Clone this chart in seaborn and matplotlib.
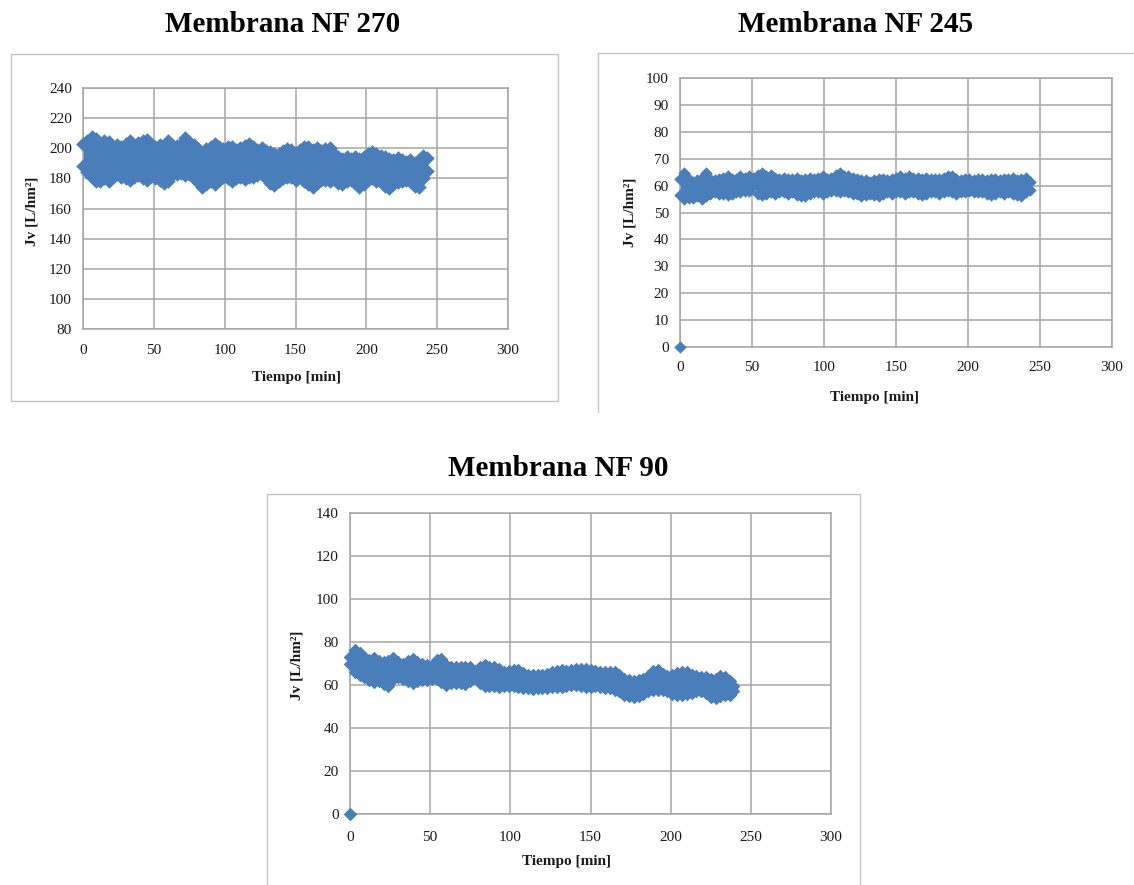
import matplotlib
matplotlib.use("Agg")
import matplotlib.pyplot as plt
import seaborn as sns
import pandas as pd
from matplotlib.lines import Line2D

# ---------------- data ----------------
titles = ["Membrana NF 270", "Membrana NF 245", "Membrana NF 90"]
x_label = "Tiempo [min]"
y_label = "Jv [L/hm²]"
x_ticks = [0, 50, 100, 150, 200, 250, 300]

nf270_t = [0, 3, 6, 9, 12, 15, 18, 21, 24, 27, 30, 33, 36, 39, 42, 45, 48, 51, 54, 57,
           60, 63, 66, 69, 72, 75, 78, 81, 84, 87, 90, 93, 96, 99, 102, 105, 108, 111, 114, 117,
           120, 123, 126, 129, 132, 135, 138, 141, 144, 147, 150, 153, 156, 159, 162, 165, 168, 171, 174, 177,
           180, 183, 186, 189, 192, 195, 198, 201, 204, 207, 210, 213, 216, 219, 222, 225, 228, 231, 234, 237,
           240, 243]
nf270_hi = [203, 205, 207.5, 206, 203, 204.5, 204, 201, 202, 200.5,
            203, 204.5, 202, 203.5, 205, 205.5, 203, 201, 202, 200,
            205, 202, 201.5, 203, 206.5, 204, 202, 199.5, 197, 199.5,
            201, 203, 201, 199.5, 200.5, 201, 199, 200, 201.5, 203,
            201, 199, 200, 198.5, 197.5, 196, 196.5, 198, 199.5, 199,
            197, 199, 200.5, 201, 199, 200, 198, 199.5, 200, 196,
            194.5, 193, 194.5, 193, 194, 193, 194.5, 196, 197.5, 196.5,
            195, 194.5, 193, 192.5, 193.5, 192, 191, 192, 190.5, 192,
            195, 193.5]
nf270_lo = [188, 184, 181, 178.5, 178, 180, 178, 181, 183, 181,
            180.5, 179, 181, 182, 180, 179, 181.5, 180, 179, 177,
            178.5, 182, 183, 183.5, 182.5, 183, 180, 177.5, 174.5, 176.5,
            178, 176.5, 179, 181, 180, 178.5, 180, 181, 179.5, 181,
            181, 182.5, 183, 180, 177, 175.5, 178, 180, 181, 181,
            179, 181, 178, 176, 174.5, 177, 179, 179, 178, 180,
            177, 176.5, 178, 179, 177, 174.5, 176, 179, 180, 178.5,
            179, 175, 173.5, 176, 177.5, 178, 179, 178, 175, 174.5,
            180, 185]

nf245_t = list(nf270_t)
nf245_hi = [62.5, 64.5, 62.5, 61.5, 62, 63, 64.5, 62.5, 62, 62.5,
            63, 63.5, 62.5, 62.5, 63.5, 63, 63.5, 63, 64, 64.5,
            63.5, 64, 63, 62.5, 63, 62.5, 62.5, 63, 62, 62.5,
            63, 62.5, 63, 63.5, 62.5, 63, 64, 64.5, 63.5, 63.5,
            63, 62.5, 62, 62, 61.5, 62, 62.5, 62.5, 62, 62.5,
            63, 63.5, 63, 63.5, 63, 63, 62.5, 63, 62.5, 62.5,
            62.5, 63, 63.5, 63.5, 62.5, 62, 62.5, 62.5, 62, 62.5,
            62.5, 62, 62.5, 62.5, 62, 62.5, 62.5, 63, 62, 62.5,
            63, 61.5]
nf245_lo = [56.5, 55, 55.5, 55.5, 56, 55, 56, 57, 57.5, 57,
            57, 56.5, 57, 57.5, 57.5, 58, 58, 60, 57, 56.5,
            57, 57.5, 57, 57.5, 57.5, 57, 57.5, 56.5, 56, 56,
            57, 57.5, 57.5, 57, 57.5, 58, 58, 57.5, 58, 57.5,
            57, 57, 56, 56.5, 57, 56.5, 56, 57, 57.5, 57,
            57.5, 57.5, 57, 57.5, 57.5, 57, 56.5, 57, 57.5, 57.5,
            57, 57.5, 58, 57.5, 57, 57.5, 57.5, 58, 57.5, 57.5,
            57.5, 57, 56.5, 57, 57.5, 57, 57.5, 57, 56.5, 56,
            57.5, 58.5]
nf245_start_t = [0]
nf245_start_jv = [0]

nf90_t = [0, 3, 6, 9, 12, 15, 18, 21, 24, 27, 30, 33, 36, 39, 42, 45, 48, 51, 54, 57,
          60, 63, 66, 69, 72, 75, 78, 81, 84, 87, 90, 93, 96, 99, 102, 105, 108, 111, 114, 117,
          120, 123, 126, 129, 132, 135, 138, 141, 144, 147, 150, 153, 156, 159, 162, 165, 168, 171, 174, 177,
          180, 183, 186, 189, 192, 195, 198, 201, 204, 207, 210, 213, 216, 219, 222, 225, 228, 231, 234, 237,
          239]
nf90_hi = [73, 76.5, 75, 73, 71.5, 72.5, 71, 70.5, 71, 72.5,
           70.5, 70, 71, 72, 70.5, 70, 69.5, 69, 71.5, 72,
           69.5, 68.5, 68.5, 68.5, 68.5, 68.5, 66.5, 68.5, 69.5, 68.5,
           68.5, 67.5, 66, 66.5, 67, 67, 65.5, 64.5, 64.5, 64.5,
           64.5, 65, 66, 66.5, 67, 66.5, 67, 67.5, 67.5, 67.5,
           67, 66.5, 66, 66, 66, 66, 64.5, 63, 62.5, 62,
           62.5, 63, 64, 66.5, 67, 65, 64, 64.5, 65.5, 66,
           66, 64.5, 64, 63.5, 63.5, 63, 63, 64, 63.5, 62,
           59.5]
nf90_lo = [70, 66, 64.5, 63.5, 62.5, 61.5, 62, 60.5, 59.5, 63,
           63.5, 63, 62, 61, 62, 62.5, 62.5, 63, 63, 61.5,
           60, 61, 61, 61, 60.5, 62, 64.5, 61, 59.5, 59.5,
           59.5, 59, 59.5, 59.5, 59.5, 59, 58.5, 58.5, 58, 58.5,
           58.5, 58.5, 59, 59, 59, 59.5, 60, 60, 59.5, 59,
           59, 59.5, 59, 58.5, 58.5, 57.5, 57, 55.5, 55, 54.5,
           55, 56, 57, 57.5, 57.5, 57.5, 57, 56, 55.5, 55.5,
           56, 56.5, 57, 57, 56.5, 54.5, 54, 55, 55.5, 55.5,
           57]
nf90_start_t = [0]
nf90_start_jv = [0]

# ---------------- style ----------------
sns.set_theme(style="white")
plt.rcParams['font.family'] = ['Liberation Serif', 'DejaVu Serif']

BLUE = '#4A7EBB'
GRID = '#a6a6a6'
BOX = '#c4c4c4'
TXT = '#1a1a1a'

W, H = 1134, 885
fig = plt.figure(figsize=(W / 100, H / 100), dpi=100)


def px_rect(l, t, r, b):
    return [l / W, 1 - b / H, (r - l) / W, (b - t) / H]


def fpt(x, y):
    return x / W, 1 - y / H


def panel(rect, t, hi, lo, st, sj, ylim, ystep, s, xpad):
    ax = fig.add_axes(rect)
    ax.fill_between(t, lo, hi, color=BLUE, linewidth=0, zorder=2)
    xs = list(t) + list(t) + list(st)
    ys = list(hi) + list(lo) + list(sj)
    df = pd.DataFrame({'t': xs, 'jv': ys})
    sns.scatterplot(data=df, x='t', y='jv', marker='D', s=s, color=BLUE,
                    linewidth=0, ax=ax, zorder=3, clip_on=False, legend=False)
    ax.set_xlim(0, 300)
    ax.set_ylim(*ylim)
    ax.set_xticks(x_ticks)
    ax.set_yticks(list(range(ylim[0], ylim[1] + 1, ystep)))
    ax.grid(True, color=GRID, linewidth=1.1)
    ax.set_axisbelow(True)
    for sp in ax.spines.values():
        sp.set_color(GRID)
        sp.set_linewidth(1.1)
    ax.tick_params(length=0, labelsize=11, colors=TXT)
    ax.tick_params(axis='y', pad=8)
    ax.tick_params(axis='x', pad=xpad)
    ax.set_xlabel('')
    ax.set_ylabel('')
    return ax


panel(px_rect(83, 88, 508, 329), nf270_t, nf270_hi, nf270_lo, [], [],
      (80, 240), 20, 55, 11)
panel(px_rect(680, 78, 1112, 347), nf245_t, nf245_hi, nf245_lo,
      nf245_start_t, nf245_start_jv, (0, 100), 10, 40, 10)
panel(px_rect(350, 513, 831, 814), nf90_t, nf90_hi, nf90_lo,
      nf90_start_t, nf90_start_jv, (0, 140), 20, 48, 12)

# titles
for txt, (x, y) in zip(titles, [(283, 25), (856, 25), (558, 468)]):
    fig.text(*fpt(x, y), txt, ha='center', va='center', fontsize=21,
             fontweight='bold', color='black')

# axis labels
for (x, y) in [(296, 378), (874, 398), (567, 862)]:
    fig.text(*fpt(x, y), x_label, ha='center', va='center', fontsize=11,
             fontweight='bold', color=TXT)
for (x, y) in [(32, 211), (630, 212), (297, 665)]:
    fig.text(*fpt(x, y), y_label, ha='center', va='center', fontsize=11,
             fontweight='bold', color=TXT, rotation=90)

# panel frames
def fline(x0, y0, x1, y1):
    fig.add_artist(Line2D([x0 / W, x1 / W], [1 - y0 / H, 1 - y1 / H],
                          transform=fig.transFigure, color=BOX, linewidth=1.0))

# NF 270 box
fline(11, 54, 558, 54)
fline(11, 54, 11, 401)
fline(558, 54, 558, 401)
fline(11, 401, 558, 401)
# NF 245 box (cropped)
fline(598, 53, 1134, 53)
fline(598, 53, 598, 412)
# NF 90 box (cropped)
fline(267, 494, 860, 494)
fline(267, 494, 267, 885)
fline(860, 494, 860, 885)

fig.savefig('out.png', dpi=100, facecolor='white')
